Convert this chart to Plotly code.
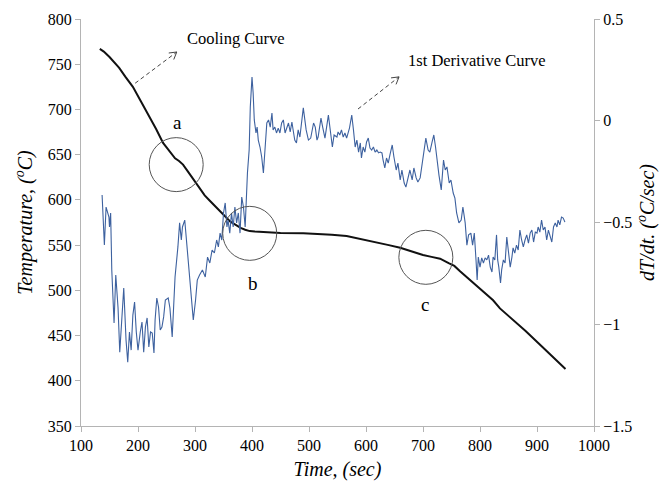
import plotly.graph_objects as go

# Cooling curve: time (sec) vs temperature (degC)
cool_t = [133, 140, 150, 158, 167, 178, 191, 205, 220, 232, 244, 255, 265, 272, 279,
          288, 296, 304, 317, 326, 335, 345, 353, 362, 370, 380, 388, 396, 405, 420,
          450, 490, 510, 540, 566, 590, 612, 640, 660, 680, 700, 715, 730, 745, 755,
          765, 780, 795, 810, 823, 835, 853, 880, 910, 930, 950]
cool_T = [767, 764, 758, 752, 746, 736, 725, 709, 692, 678, 663, 654, 646, 643, 639,
          631, 624, 616, 605, 599, 593, 587, 581, 576, 573, 569, 567, 565.5, 565, 564.5,
          563.5, 563, 562.5, 561.5, 560, 557, 553.5, 550, 547, 543, 539, 537, 535, 530, 527,
          521, 513, 505, 497, 489, 480, 470, 455, 437, 425, 413]

# First derivative dT/dt (degC/sec)
der_t = [137, 141, 144, 147, 149, 150, 152, 154, 158, 161, 165, 168, 172, 175, 179, 182,
         185, 188, 191, 194, 197, 200, 204, 207, 210, 213, 216, 219, 222, 225, 228, 230,
         233, 236, 239, 242, 245, 248, 253, 256, 260, 263, 265, 270, 273, 276, 278, 282,
         286, 290, 294, 297, 301, 304, 308, 313, 318, 322, 326, 330, 334, 338, 341, 344,
         347, 350, 353, 356, 358, 361, 364, 367, 370, 373, 376, 379, 382, 385, 388, 390,
         392, 395, 397, 400, 402, 404, 407, 409, 411, 414, 417, 420, 423, 426, 429, 432,
         435, 437, 440, 443, 446, 449, 452, 455, 458, 461, 464, 467, 470, 473, 475, 478,
         481, 484, 490, 495, 499, 503, 508, 511, 514, 516, 521, 524, 528, 534, 537, 541,
         544, 549, 551, 554, 557, 560, 563, 566, 571, 575, 578, 581, 584, 587, 590, 592,
         595, 598, 601, 604, 607, 610, 613, 616, 619, 622, 625, 628, 630, 633, 636, 639,
         642, 646, 649, 653, 656, 660, 663, 667, 670, 674, 677, 681, 684, 688, 691, 695,
         698, 702, 705, 709, 712, 716, 719, 722, 724, 728, 732, 736, 739, 742, 746, 749,
         753, 756, 759, 763, 767, 770, 774, 777, 780, 784, 787, 790, 793, 795, 797, 800,
         803, 806, 809, 812, 815, 818, 821, 823, 826, 829, 831, 833, 836, 838, 841, 844,
         847, 850, 853, 856, 858, 861, 864, 867, 870, 873, 876, 879, 882, 885, 888, 891,
         894, 897, 900, 902, 905, 908, 911, 914, 917, 920, 923, 926, 929, 932, 935, 937,
         940, 943, 946, 949]
der_v = [-0.365, -0.611, -0.424, -0.448, -0.473, -0.522, -0.453, -0.733, -0.994, -0.758,
         -0.920, -1.137, -0.940, -0.822, -1.077, -1.186, -1.038, -1.127, -0.955, -0.891,
         -1.038, -1.127, -1.038, -0.989, -1.137, -1.014, -0.969, -1.112, -1.038, -1.043,
         -1.141, -0.979, -0.871, -0.915, -1.028, -1.014, -0.964, -0.881, -0.871, -0.920,
         -1.063, -0.915, -0.768, -0.620, -0.502, -0.586, -0.522, -0.488, -0.620, -0.768,
         -0.920, -0.979, -0.881, -0.783, -0.758, -0.733, -0.768, -0.670, -0.699, -0.635,
         -0.650, -0.586, -0.620, -0.552, -0.586, -0.453, -0.404, -0.522, -0.488, -0.552,
         -0.453, -0.522, -0.424, -0.502, -0.453, -0.552, -0.375, -0.424, -0.522, -0.375,
         -0.257, -0.144, 0.068, 0.215, 0.136, 0.004, -0.060, -0.031, -0.095, -0.129,
         -0.178, -0.257, -0.144, -0.011, 0.004, -0.031, 0.038, -0.045, -0.031, -0.060,
         -0.036, -0.060, -0.011, 0.004, -0.060, -0.036, -0.011, -0.055, -0.006, -0.060,
         -0.095, -0.109, -0.045, -0.080, 0.063, -0.045, -0.095, -0.085, -0.011, -0.031,
         -0.095, -0.080, 0.013, -0.031, -0.085, 0.028, -0.036, -0.129, -0.070, -0.080,
         -0.055, -0.070, -0.045, -0.080, -0.060, -0.085, -0.036, 0.028, -0.045, -0.129,
         -0.095, -0.154, -0.109, -0.183, -0.129, -0.154, -0.104, -0.085, -0.134, -0.144,
         -0.129, -0.154, -0.144, -0.158, -0.154, -0.158, -0.193, -0.232, -0.183, -0.208,
         -0.168, -0.119, -0.178, -0.242, -0.208, -0.291, -0.242, -0.306, -0.326, -0.276,
         -0.242, -0.291, -0.232, -0.281, -0.301, -0.281, -0.217, -0.154, -0.085, -0.144,
         -0.154, -0.104, -0.070, -0.129, -0.178, -0.267, -0.340, -0.193, -0.242, -0.227,
         -0.306, -0.291, -0.355, -0.380, -0.453, -0.502, -0.488, -0.424, -0.502, -0.611,
         -0.561, -0.552, -0.611, -0.552, -0.684, -0.783, -0.670, -0.719, -0.674, -0.699,
         -0.674, -0.684, -0.660, -0.719, -0.743, -0.670, -0.684, -0.561, -0.684, -0.719,
         -0.797, -0.733, -0.684, -0.699, -0.571, -0.650, -0.719, -0.670, -0.625, -0.650,
         -0.611, -0.635, -0.537, -0.586, -0.620, -0.586, -0.561, -0.601, -0.552, -0.537,
         -0.596, -0.547, -0.552, -0.522, -0.547, -0.488, -0.537, -0.522, -0.586, -0.537,
         -0.561, -0.596, -0.522, -0.502, -0.522, -0.488, -0.512, -0.473, -0.478, -0.498]

# Marked regions (circle centres in time / temperature) and their letters
mark_names = ["a", "b", "c"]
mark_t = [267, 396, 705]
mark_T = [639, 563, 536.5]
label_t = [270, 401, 704]
label_T = [686, 508, 484]

# Curve captions with dashed pointer arrows (tail -> head, temperature axis)
caption_text = ["Cooling Curve", "1st Derivative Curve"]
caption_t = [372, 793]
caption_T = [778, 754]
arrow_tail_t = [195, 586]
arrow_tail_T = [729, 700.5]
arrow_head_t = [268, 658]
arrow_head_T = [763.5, 736]

SERIF = "Times New Roman"
AXIS_GREY = "#b4b4b4"
ARROW_GREY = "#444444"
# arrowhead barbs, pixel offsets from the tip (x right, y up)
BARBS = [(-8, -1), (-3, -7.5)]

fig = go.Figure()
fig.add_trace(go.Scatter(x=der_t, y=der_v, yaxis="y2", mode="lines",
                         line=dict(color="#3d619f", width=1.1), showlegend=False))
fig.add_trace(go.Scatter(x=cool_t, y=cool_T, mode="lines",
                         line=dict(color="#111111", width=2),
                         showlegend=False))

shapes = []
for t, T in zip(mark_t, mark_T):
    shapes.append(dict(type="circle", xref="x", yref="y", xsizemode="pixel", ysizemode="pixel",
                       xanchor=t, yanchor=T, x0=-27, x1=27, y0=-27, y1=27,
                       line=dict(color="#555555", width=1)))
for t0, T0, t1, T1 in zip(arrow_tail_t, arrow_tail_T, arrow_head_t, arrow_head_T):
    shapes.append(dict(type="line", xref="x", yref="y", x0=t0, y0=T0, x1=t1, y1=T1,
                       line=dict(color=ARROW_GREY, width=1, dash="4px,3px")))
    for bx, by in BARBS:
        shapes.append(dict(type="line", xref="x", yref="y", xsizemode="pixel", ysizemode="pixel",
                           xanchor=t1, yanchor=T1, x0=0, y0=0, x1=bx, y1=by,
                           line=dict(color=ARROW_GREY, width=1)))

annotations = []
for name, t, T in zip(mark_names, label_t, label_T):
    annotations.append(dict(x=t, y=T, xref="x", yref="y", text=name, showarrow=False,
                            font=dict(family=SERIF, size=19, color="black")))
for text, t, T in zip(caption_text, caption_t, caption_T):
    annotations.append(dict(x=t, y=T, xref="x", yref="y", text=text, showarrow=False,
                            font=dict(family=SERIF, size=16.5, color="black")))

fig.update_layout(
    width=659, height=482,
    margin=dict(l=81, r=65, t=19, b=56),
    paper_bgcolor="white", plot_bgcolor="white",
    font=dict(family=SERIF, size=16, color="black"),
    shapes=shapes, annotations=annotations,
    xaxis=dict(range=[100, 1000], dtick=100, tick0=100, showgrid=False, zeroline=False,
               automargin=False,
               showline=True, linecolor=AXIS_GREY, linewidth=1.3,
               ticks="outside", ticklen=5, tickcolor=AXIS_GREY,
               tickfont=dict(family=SERIF, size=16),
               title=dict(text="<i>Time, (sec)</i>", font=dict(family=SERIF, size=20), standoff=8)),
    yaxis=dict(range=[350, 800], dtick=50, showgrid=False, zeroline=False,
               automargin=False,
               showline=True, linecolor=AXIS_GREY, linewidth=1.3,
               ticks="outside", ticklen=5, tickcolor=AXIS_GREY,
               tickfont=dict(family=SERIF, size=16),
               title=dict(text="<i>Temperature, (<sup>o</sup>C)</i>",
                          font=dict(family=SERIF, size=20), standoff=9)),
    yaxis2=dict(range=[-1.5, 0.5], dtick=0.5, overlaying="y", side="right",
                showgrid=False, zeroline=False, automargin=False,
                showline=True, linecolor=AXIS_GREY, linewidth=1.3,
                ticks="outside", ticklen=5, tickcolor=AXIS_GREY,
                tickfont=dict(family=SERIF, size=16),
                title=dict(text="<i>dT/dt. (<sup>o</sup>C/sec)</i>",
                           font=dict(family=SERIF, size=20), standoff=12)),
)

fig.write_html("out.html")
